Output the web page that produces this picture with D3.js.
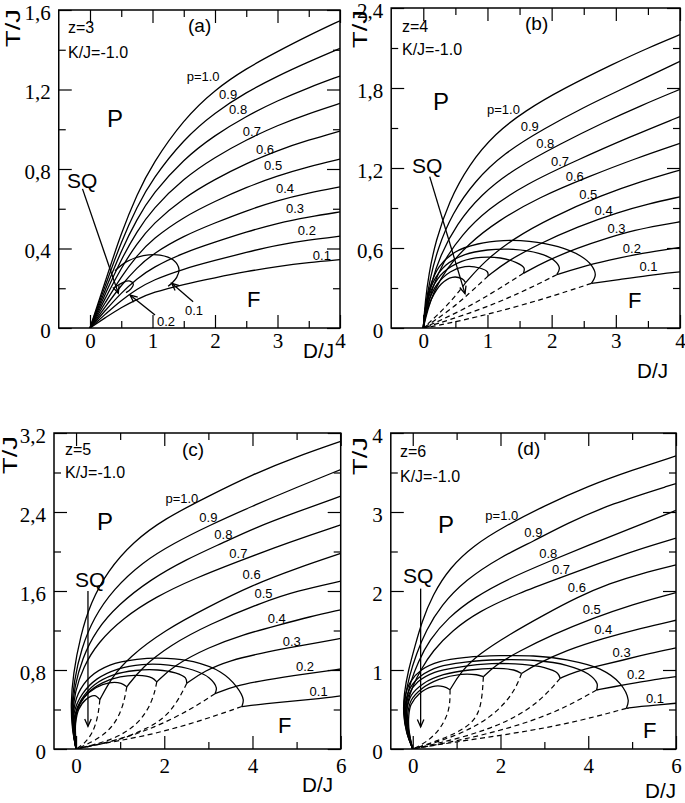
<!DOCTYPE html>
<html><head><meta charset="utf-8">
<script src="https://cdnjs.cloudflare.com/ajax/libs/d3/7.8.5/d3.min.js"></script>
<style>
body{margin:0;background:#fff;}
svg{display:block;}
.tick text{font-family:"Liberation Serif","Times New Roman",serif;font-size:21px;fill:#000;}
.tick line{stroke:#000;stroke-width:1.2;}
.lbl{font-family:"Liberation Sans",Arial,sans-serif;fill:#000;}
</style></head><body>
<script>
// ---------------- DATA ----------------
const curveNames = ["p=1.0","0.9","0.8","0.7","0.6","0.5","0.4","0.3","0.2","0.1"];
const xTicksAB = [0,1,2,3,4];
const xTicksCD = [0,2,4,6];
const yTicksA = [0,0.4,0.8,1.2,1.6];
const yLabelsA = ["0","0,4","0,8","1,2","1,6"];
const yTicksB = [0,0.6,1.2,1.8,2.4];
const yLabelsB = ["0","0,6","1,2","1,8","2,4"];
const yTicksC = [0,0.8,1.6,2.4,3.2];
const yLabelsC = ["0","0,8","1,6","2,4","3,2"];
const yTicksD = [0,1,2,3,4];
const yLabelsD = ["0","1","2","3","4"];

// Panel (a) z=3 : P-F lines p=1.0 ... 0.1
const aSolid = [
 [[0,0],[0.25,0.24],[0.5,0.479],[0.75,0.672],[1,0.827],[1.5,1.051],[2,1.2],[2.5,1.306],[3,1.391],[3.5,1.472],[4,1.546]],
 [[0,0],[0.25,0.218],[0.5,0.435],[0.75,0.61],[1,0.75],[1.5,0.951],[2,1.085],[2.5,1.186],[3,1.268],[3.5,1.34],[4,1.407]],
 [[0,0],[0.25,0.196],[0.5,0.39],[0.75,0.548],[1,0.675],[1.5,0.851],[2,0.971],[2.5,1.066],[3,1.144],[3.5,1.21],[4,1.268]],
 [[0,0],[0.25,0.175],[0.5,0.346],[0.75,0.486],[1,0.599],[1.5,0.754],[2,0.86],[2.5,0.947],[3,1.02],[3.5,1.079],[4,1.13]],
 [[0,0],[0.25,0.153],[0.5,0.303],[0.75,0.425],[1,0.523],[1.5,0.656],[2,0.749],[2.5,0.828],[3,0.894],[3.5,0.946],[4,0.991]],
 [[0,0],[0.25,0.131],[0.5,0.259],[0.75,0.364],[1,0.448],[1.5,0.559],[2,0.638],[2.5,0.708],[3,0.766],[3.5,0.812],[4,0.85]],
 [[0,0],[0.25,0.109],[0.5,0.216],[0.75,0.303],[1,0.373],[1.5,0.464],[2,0.529],[2.5,0.59],[3,0.642],[3.5,0.68],[4,0.71]],
 [[0,0],[0.25,0.09],[0.5,0.177],[0.75,0.248],[1,0.305],[1.5,0.379],[2,0.432],[2.5,0.483],[3,0.528],[3.5,0.559],[4,0.584]],
 [[0,0],[0.25,0.071],[0.5,0.14],[0.75,0.195],[1,0.241],[1.5,0.298],[2,0.34],[2.5,0.381],[3,0.418],[3.5,0.443],[4,0.462]],
 [[0,0],[0.25,0.053],[0.5,0.104],[0.75,0.144],[1,0.179],[1.5,0.22],[2,0.253],[2.5,0.284],[3,0.31],[3.5,0.33],[4,0.344]]
];
const aArcs = [
 [[0.40,0.288],[0.587,0.334],[0.853,0.364],[1.12,0.367],[1.333,0.342],[1.424,0.295],[1.387,0.255],[1.307,0.225],[1.25,0.21]],
 [[0.40,0.205],[0.533,0.23],[0.64,0.236],[0.693,0.221],[0.651,0.196],[0.576,0.178]]
];
const aDashed = [];
const aLabelPos = [[1.81,1.264],[2.21,1.177],[2.37,1.10],[2.59,0.99],[2.8,0.90],[2.93,0.82],[3.12,0.70],[3.28,0.60],[3.47,0.49],[3.71,0.366]];
const aPointers = [ [[-0.12,0.70],[0.453,0.175]], [[1.04,0.065],[0.64,0.166]], [[1.65,0.132],[1.307,0.225]] ];

// Panel (b) z=4
const bSolid = [
 [[0,0],[0.03,0.2],[0.084,0.4],[0.19,0.65],[0.4,0.95],[0.71,1.225],[1.12,1.46],[1.59,1.63],[2.16,1.79],[3,1.99],[3.5,2.1],[4,2.2]],
 [[0,0],[0.04,0.18],[0.1,0.36],[0.22,0.59],[0.45,0.86],[0.8,1.1],[1.25,1.31],[1.9,1.5],[2.5,1.655],[3,1.77],[3.5,1.885],[4,2.0]],
 [[0,0],[0.05,0.17],[0.12,0.33],[0.26,0.54],[0.52,0.78],[0.9,1.0],[1.4,1.19],[2.15,1.385],[2.8,1.54],[3.4,1.67],[4,1.79]],
 [[0,0],[0.06,0.15],[0.14,0.3],[0.3,0.49],[0.6,0.7],[1.0,0.89],[1.6,1.08],[2.4,1.26],[3.2,1.43],[4,1.586]],
 [[0,0],[0.07,0.14],[0.16,0.27],[0.35,0.44],[0.7,0.63],[1.15,0.8],[1.8,0.98],[2.6,1.14],[3.3,1.27],[4,1.385]],
 [[0.66,0.34],[0.95,0.5],[1.4,0.67],[2.0,0.83],[2.8,1.0],[3.4,1.1],[4,1.185]],
 [[1.01,0.39],[1.3,0.5],[1.8,0.63],[2.4,0.76],[3.05,0.87],[3.5,0.93],[4,0.984]],
 [[1.56,0.41],[1.9,0.5],[2.4,0.6],[2.9,0.68],[3.3,0.735],[3.7,0.772],[4,0.797]],
 [[2.08,0.40],[2.4,0.45],[2.9,0.51],[3.4,0.56],[4,0.604]],
 [[2.62,0.335],[3.0,0.36],[3.5,0.395],[4,0.421]]
];
const bArcs = [
 [[2.62,0.335],[2.68,0.40],[2.62,0.47],[2.45,0.54],[2.1,0.61],[1.65,0.65],[1.25,0.655],[0.85,0.63],[0.5,0.57],[0.25,0.46],[0.1,0.3],[0.03,0.14],[0,0]],
 [[2.08,0.40],[2.12,0.45],[2.03,0.51],[1.8,0.56],[1.4,0.59],[1.0,0.585],[0.65,0.55],[0.35,0.47],[0.15,0.34],[0.04,0.17],[0,0]],
 [[1.56,0.41],[1.57,0.45],[1.45,0.49],[1.2,0.525],[0.9,0.53],[0.6,0.5],[0.32,0.42],[0.14,0.3],[0.04,0.15],[0,0]],
 [[1.01,0.39],[1.0,0.42],[0.88,0.45],[0.65,0.46],[0.42,0.42],[0.22,0.33],[0.09,0.21],[0.02,0.09],[0,0]],
 [[0.66,0.34],[0.6,0.37],[0.45,0.38],[0.28,0.33],[0.13,0.22],[0.04,0.1],[0,0]]
];
const bDashed = [
 [[2.62,0.335],[1.9,0.22],[1.0,0.1],[0.3,0.025],[0,0]],
 [[2.08,0.40],[1.5,0.26],[0.8,0.12],[0,0]],
 [[1.56,0.41],[1.1,0.27],[0.6,0.13],[0,0]],
 [[1.01,0.39],[0.72,0.26],[0.38,0.12],[0,0]],
 [[0.66,0.34],[0.47,0.22],[0.23,0.1],[0,0]]
];
const bLabelPos = [[1.25,1.636],[1.66,1.51],[1.90,1.385],[2.13,1.25],[2.36,1.14],[2.57,1.005],[2.81,0.88],[3.01,0.744],[3.25,0.596],[3.51,0.458]];
const bPointers = [ [[0.10,1.135],[0.65,0.258]] ];

// Panel (c) z=5
const cSolid = [
 [[0,0],[-0.09,0.2],[-0.12,0.45],[-0.07,0.75],[0.1,1.15],[0.33,1.48],[0.71,1.8],[1.3,2.1],[2,2.33],[3,2.56],[4,2.78],[5,2.96],[6,3.115]],
 [[0,0],[-0.08,0.18],[-0.1,0.42],[-0.05,0.68],[0.12,1.02],[0.4,1.33],[0.85,1.62],[1.5,1.89],[2.2,2.08],[3,2.26],[4,2.46],[5,2.65],[6,2.83]],
 [[0,0],[-0.07,0.17],[-0.09,0.39],[-0.04,0.62],[0.14,0.92],[0.45,1.2],[0.95,1.46],[1.7,1.72],[2.5,1.92],[3.34,2.09],[4,2.23],[5,2.4],[6,2.56]],
 [[0,0],[-0.06,0.16],[-0.08,0.36],[-0.03,0.57],[0.16,0.83],[0.5,1.08],[1.05,1.32],[1.8,1.54],[2.7,1.73],[3.68,1.9],[4.5,2.04],[5.2,2.15],[6,2.27]],
 [[0.54,0.5],[0.8,0.72],[1.2,0.93],[2,1.2],[3,1.44],[4,1.66],[5,1.83],[6,1.98]],
 [[1.15,0.63],[1.5,0.83],[2.13,1.05],[3,1.26],[4.25,1.49],[5,1.6],[6,1.7]],
 [[1.83,0.68],[2.2,0.84],[3,1.03],[3.8,1.16],[4.55,1.25],[5.3,1.34],[6,1.41]],
 [[2.51,0.665],[2.9,0.79],[3.5,0.9],[4.2,0.97],[4.89,1.03],[5.5,1.08],[6,1.12]],
 [[3.15,0.56],[3.6,0.64],[4.3,0.7],[5.19,0.76],[6,0.81]],
 [[3.76,0.43],[4.3,0.46],[5,0.49],[5.5,0.51],[6,0.537]]
];
const cArcs = [
 [[3.76,0.43],[3.79,0.5],[3.64,0.63],[3.27,0.78],[2.66,0.884],[2.06,0.918],[1.38,0.908],[0.77,0.85],[0.32,0.73],[0.05,0.56],[-0.06,0.36],[-0.05,0.16],[0,0]],
 [[3.15,0.56],[3.18,0.62],[3.02,0.72],[2.65,0.8],[2.1,0.85],[1.5,0.855],[0.95,0.81],[0.48,0.71],[0.15,0.56],[-0.04,0.37],[-0.05,0.17],[0,0]],
 [[2.51,0.665],[2.48,0.72],[2.25,0.77],[1.85,0.8],[1.35,0.795],[0.85,0.75],[0.42,0.65],[0.12,0.5],[-0.03,0.34],[-0.04,0.16],[0,0]],
 [[1.83,0.68],[1.72,0.72],[1.4,0.745],[1.0,0.73],[0.6,0.67],[0.25,0.56],[0.04,0.42],[-0.03,0.27],[-0.03,0.12],[0,0]],
 [[1.15,0.63],[1.02,0.665],[0.75,0.67],[0.45,0.62],[0.18,0.52],[0.02,0.38],[-0.02,0.22],[-0.01,0.1],[0,0]],
 [[0.54,0.5],[0.42,0.54],[0.22,0.5],[0.06,0.4],[-0.01,0.26],[-0.01,0.12],[0,0]]
];
const cDashed = [
 [[3.76,0.43],[2.66,0.26],[1.53,0.125],[0.39,0.04],[0,0]],
 [[3.15,0.56],[2.6,0.40],[1.8,0.22],[0.9,0.08],[0,0]],
 [[2.51,0.665],[2.28,0.46],[1.9,0.26],[1.0,0.09],[0,0]],
 [[1.83,0.68],[1.75,0.5],[1.45,0.26],[0.85,0.09],[0,0]],
 [[1.15,0.63],[1.07,0.43],[0.85,0.226],[0.47,0.09],[0,0]],
 [[0.54,0.5],[0.5,0.33],[0.38,0.16],[0.18,0.05],[0,0]]
];
const cLabelPos = [[2.4,2.54],[3.0,2.34],[3.34,2.17],[3.68,1.98],[3.98,1.77],[4.25,1.57],[4.55,1.32],[4.89,1.09],[5.19,0.84],[5.5,0.58]];
const cPointers = [ [[0.27,1.6],[0.27,0.23]] ];

// Panel (d) z=6
const dSolid = [
 [[0,0],[-0.15,0.2],[-0.22,0.45],[-0.2,0.7],[-0.1,1.0],[0.05,1.3],[0.2,1.6],[0.45,1.95],[0.85,2.3],[1.4,2.58],[2.03,2.8],[3,3.08],[4,3.33],[5,3.53],[6,3.71]],
 [[0,0],[-0.13,0.2],[-0.2,0.43],[-0.18,0.65],[-0.08,0.92],[0.08,1.2],[0.3,1.5],[0.65,1.82],[1.2,2.14],[2,2.43],[2.75,2.63],[3.5,2.85],[4.5,3.1],[6,3.36]],
 [[0,0],[-0.12,0.2],[-0.18,0.42],[-0.15,0.62],[-0.05,0.85],[0.12,1.1],[0.38,1.38],[0.8,1.66],[1.4,1.92],[2.2,2.16],[3.09,2.37],[4,2.58],[5,2.8],[6,3.02]],
 [[0,0],[-0.1,0.2],[-0.16,0.4],[-0.12,0.6],[0,0.8],[0.18,1.0],[0.45,1.24],[0.9,1.5],[1.5,1.74],[2.4,1.97],[3.38,2.17],[4.3,2.36],[5.1,2.52],[6,2.67]],
 [[0.85,0.75],[1.1,0.98],[1.5,1.2],[2.2,1.45],[3,1.7],[3.74,1.92],[4.5,2.1],[5.2,2.22],[6,2.33]],
 [[1.61,0.915],[1.9,1.07],[2.4,1.23],[3.2,1.45],[4.08,1.65],[5,1.83],[6,1.98]],
 [[2.48,0.955],[2.8,1.07],[3.5,1.25],[4.34,1.4],[5.2,1.53],[6,1.63]],
 [[3.36,0.895],[3.7,0.98],[4.2,1.05],[4.76,1.12],[5.4,1.21],[6,1.28]],
 [[4.19,0.747],[4.6,0.79],[5.09,0.84],[5.5,0.88],[6,0.917]],
 [[4.87,0.515],[5.2,0.54],[5.6,0.56],[6,0.579]]
];
const dArcs = [
 [[4.87,0.515],[4.91,0.62],[4.72,0.83],[4.27,1.01],[3.51,1.127],[2.75,1.177],[1.99,1.181],[1.23,1.16],[0.62,1.105],[0.2,1.0],[-0.05,0.85],[-0.18,0.65],[-0.2,0.45],[-0.13,0.2],[0,0]],
 [[4.19,0.747],[4.2,0.83],[4.0,0.95],[3.5,1.06],[2.8,1.12],[2.0,1.13],[1.2,1.1],[0.6,1.04],[0.2,0.93],[-0.05,0.78],[-0.16,0.6],[-0.18,0.42],[-0.12,0.2],[0,0]],
 [[3.36,0.895],[3.3,0.96],[3.0,1.03],[2.5,1.07],[1.8,1.08],[1.1,1.04],[0.5,0.97],[0.12,0.85],[-0.08,0.7],[-0.15,0.52],[-0.15,0.35],[-0.1,0.18],[0,0]],
 [[2.48,0.955],[2.3,1.0],[1.9,1.02],[1.3,1.0],[0.7,0.94],[0.25,0.83],[-0.03,0.68],[-0.13,0.5],[-0.13,0.33],[-0.08,0.16],[0,0]],
 [[1.61,0.915],[1.45,0.94],[1.1,0.945],[0.6,0.88],[0.2,0.76],[-0.03,0.62],[-0.11,0.46],[-0.11,0.3],[-0.06,0.14],[0,0]],
 [[0.85,0.75],[0.7,0.79],[0.45,0.79],[0.15,0.7],[-0.04,0.56],[-0.09,0.42],[-0.09,0.27],[-0.05,0.12],[0,0]]
];
const dDashed = [
 [[4.87,0.515],[3.5,0.31],[2.0,0.17],[0.5,0.05],[0,0]],
 [[4.19,0.747],[3.3,0.47],[2.2,0.26],[1.0,0.1],[0,0]],
 [[3.36,0.895],[2.9,0.6],[2.2,0.35],[1.2,0.15],[0,0]],
 [[2.48,0.955],[2.3,0.7],[1.8,0.4],[1.0,0.16],[0,0]],
 [[1.61,0.915],[1.57,0.54],[1.38,0.325],[0.85,0.156],[0,0]],
 [[0.85,0.75],[0.85,0.49],[0.62,0.24],[0.3,0.08],[0,0]]
];
const dLabelPos = [[2.03,2.95],[2.75,2.74],[3.09,2.47],[3.38,2.27],[3.74,2.05],[4.08,1.76],[4.34,1.51],[4.76,1.22],[5.09,0.94],[5.52,0.64]];
const dPointers = [ [[0.18,2.03],[0.18,0.28]] ];

// ---------------- LAYOUT ----------------
const panels = [
 {id:"a", solid:aSolid, arcs:aArcs, dashed:aDashed, labels:aLabelPos, pointers:aPointers,
  xd:[-0.5,4], xr:[58.75,340], yd:[0,1.6], yr:[328,10],
  xMaj:xTicksAB, xMin:[0.5,1.5,2.5,3.5], yMaj:yTicksA, yMin:[0.2,0.6,1.0,1.4], yLab:yLabelsA, xPad:5,
  z:"z=3", tag:"(a)", t:{z:[68,33], k:[68,58], tag:[188,32], P:[107,127], F:[247,307], SQ:[67,188], TJ:[20,28], DJ:[303,358]},
  extra:[["0.2",157,326],["0.1",185,315]]},
 {id:"b", solid:bSolid, arcs:bArcs, dashed:bDashed, labels:bLabelPos, pointers:bPointers,
  xd:[-0.5,4], xr:[391.2,680], yd:[0,2.4], yr:[328,8],
  xMaj:xTicksAB, xMin:[0.5,1.5,2.5,3.5], yMaj:yTicksB, yMin:[0.3,0.9,1.5,2.1], yLab:yLabelsB, xPad:5,
  z:"z=4", tag:"(b)", t:{z:[402,32], k:[402,55], tag:[525,30], P:[433,110], F:[628,308], SQ:[412,173], TJ:[367,29], DJ:[637,378]},
  extra:[]},
 {id:"c", solid:cSolid, arcs:cArcs, dashed:cDashed, labels:cLabelPos, pointers:cPointers,
  xd:[-0.5,6], xr:[54,340.7], yd:[0,3.2], yr:[749,433],
  xMaj:xTicksCD, xMin:[1,3,5], yMaj:yTicksC, yMin:[0.4,1.2,2.0,2.8], yLab:yLabelsC, xPad:9,
  z:"z=5", tag:"(c)", t:{z:[65,455], k:[65,478], tag:[182,456], P:[97,530], F:[278,733], SQ:[75,587], TJ:[17,455], DJ:[302,792]},
  extra:[]},
 {id:"d", solid:dSolid, arcs:dArcs, dashed:dDashed, labels:dLabelPos, pointers:dPointers,
  xd:[-0.5,6], xr:[390.8,676], yd:[0,4], yr:[749,433],
  xMaj:xTicksCD, xMin:[1,3,5], yMaj:yTicksD, yMin:[0.5,1.5,2.5,3.5], yLab:yLabelsD, xPad:9,
  z:"z=6", tag:"(d)", t:{z:[400,457], k:[400,482], tag:[517,455], P:[438,533], F:[643,738], SQ:[403,583], TJ:[367,456], DJ:[645,798]},
  extra:[]}
];

const svg = d3.select("body").append("svg").attr("width",685).attr("height",803);
svg.append("rect").attr("width",685).attr("height",803).attr("fill","#fff");

function txt(g, s, x, y, size, anchor){
  return g.append("text").attr("class","lbl").attr("x",x).attr("y",y)
    .attr("font-size",size).attr("text-anchor",anchor||"start").text(s);
}

function drawArrow(g, x, y, from, to){
  const x1=x(from[0]), y1=y(from[1]), x2=x(to[0]), y2=y(to[1]);
  g.append("line").attr("x1",x1).attr("y1",y1).attr("x2",x2).attr("y2",y2)
    .attr("stroke","#000").attr("stroke-width",1.3);
  const a=Math.atan2(y2-y1,x2-x1), L=8, w=0.42;
  g.append("path").attr("d",`M${x2-L*Math.cos(a-w)},${y2-L*Math.sin(a-w)}L${x2},${y2}L${x2-L*Math.cos(a+w)},${y2-L*Math.sin(a+w)}`)
    .attr("fill","none").attr("stroke","#000").attr("stroke-width",1.3);
}

panels.forEach(cfg=>{
  const g = svg.append("g");
  const x = d3.scaleLinear().domain(cfg.xd).range(cfg.xr);
  const y = d3.scaleLinear().domain(cfg.yd).range(cfg.yr);
  const clipId = "clip_"+cfg.id;
  svg.append("clipPath").attr("id",clipId).append("rect")
    .attr("x",cfg.xr[0]).attr("y",cfg.yr[1]).attr("width",cfg.xr[1]-cfg.xr[0]).attr("height",cfg.yr[0]-cfg.yr[1]);
  const smooth = d3.line().x(d=>x(d[0])).y(d=>y(d[1])).curve(d3.curveBasis);
  const thru = d3.line().x(d=>x(d[0])).y(d=>y(d[1])).curve(d3.curveCatmullRom.alpha(0.5));
  const plot = g.append("g").attr("clip-path",`url(#${clipId})`);
  cfg.solid.forEach(c=>plot.append("path").attr("d",smooth(c)).attr("fill","none").attr("stroke","#000").attr("stroke-width",1.3));
  cfg.arcs.forEach(c=>plot.append("path").attr("d",thru(c)).attr("fill","none").attr("stroke","#000").attr("stroke-width",1.3));
  cfg.dashed.forEach(c=>plot.append("path").attr("d",smooth(c)).attr("fill","none").attr("stroke","#000").attr("stroke-width",1.2).attr("stroke-dasharray","5,3.5"));

  // axes (ticks inward on all four sides)
  const W = cfg.xr[1]-cfg.xr[0];
  const noDom = s=>s.select(".domain").remove();
  g.append("g").attr("transform",`translate(0,${cfg.yr[0]})`)
    .call(d3.axisBottom(x).tickValues(cfg.xMaj).tickSize(-13).tickPadding(cfg.xPad).tickFormat(d=>String(d))).call(noDom);
  g.append("g").attr("transform",`translate(0,${cfg.yr[0]})`)
    .call(d3.axisBottom(x).tickValues(cfg.xMin).tickSize(-7).tickFormat("")).call(noDom);
  g.append("g").attr("transform",`translate(0,${cfg.yr[1]})`)
    .call(d3.axisTop(x).tickValues(cfg.xMaj).tickSize(-13).tickFormat("")).call(noDom);
  g.append("g").attr("transform",`translate(0,${cfg.yr[1]})`)
    .call(d3.axisTop(x).tickValues(cfg.xMin).tickSize(-7).tickFormat("")).call(noDom);
  const yl = g.append("g").attr("transform",`translate(${cfg.xr[0]},0)`)
    .call(d3.axisLeft(y).tickValues(cfg.yMaj).tickSize(-13).tickPadding(8).tickFormat((d,i)=>cfg.yLab[i])).call(noDom);
  yl.selectAll(".tick text").attr("dy","0.45em");
  g.append("g").attr("transform",`translate(${cfg.xr[0]},0)`)
    .call(d3.axisLeft(y).tickValues(cfg.yMin).tickSize(-7).tickFormat("")).call(noDom);
  g.append("g").attr("transform",`translate(${cfg.xr[1]},0)`)
    .call(d3.axisRight(y).tickValues(cfg.yMaj).tickSize(-13).tickFormat("")).call(noDom);
  g.append("g").attr("transform",`translate(${cfg.xr[1]},0)`)
    .call(d3.axisRight(y).tickValues(cfg.yMin).tickSize(-7).tickFormat("")).call(noDom);
  g.selectAll(".tick text").attr("fill","#000");

  g.append("rect").attr("x",cfg.xr[0]).attr("y",cfg.yr[1]).attr("width",W).attr("height",cfg.yr[0]-cfg.yr[1])
    .attr("fill","none").attr("stroke","#000").attr("stroke-width",1.5);

  // curve labels
  cfg.labels.forEach((p,i)=>{
    txt(g, curveNames[i], x(p[0]), y(p[1])+4.5, 13, "middle");
  });
  // pointers
  cfg.pointers.forEach(p=>drawArrow(g,x,y,p[0],p[1]));
  cfg.extra.forEach(e=>txt(g,e[0],e[1],e[2],13,"start"));

  const t=cfg.t;
  txt(g,cfg.z,t.z[0],t.z[1],16);
  txt(g,"K/J=-1.0",t.k[0],t.k[1],16);
  txt(g,cfg.tag,t.tag[0],t.tag[1],19);
  txt(g,"P",t.P[0],t.P[1],24);
  txt(g,"F",t.F[0],t.F[1],22);
  txt(g,"SQ",t.SQ[0],t.SQ[1],21);
  g.append("text").attr("class","lbl").attr("transform",`translate(${t.TJ[0]},${t.TJ[1]}) rotate(-90)`)
    .attr("text-anchor","middle").attr("font-size",20).attr("textLength",38).attr("lengthAdjust","spacingAndGlyphs").text("T/J");
  g.append("text").attr("class","lbl").attr("x",t.DJ[0]).attr("y",t.DJ[1])
    .attr("font-size",21).attr("textLength",31).attr("lengthAdjust","spacingAndGlyphs").text("D/J");
});
</script>
</body></html>
